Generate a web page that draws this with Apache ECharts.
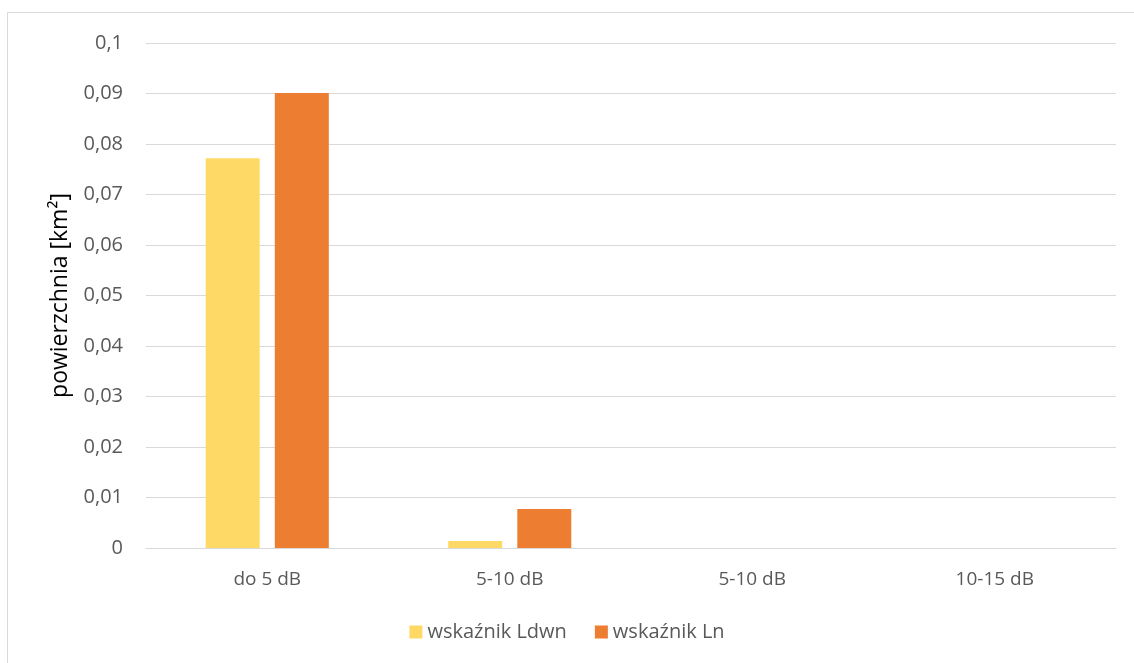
<!DOCTYPE html>
<html><head><meta charset="utf-8">
<script src="https://cdn.jsdelivr.net/npm/echarts@6/dist/echarts.min.js"></script>
<style>html,body{margin:0;padding:0;background:#fff}#c{width:1134px;height:663px}</style>
</head><body><div id="c"></div>
<script>
const categories = ['do 5 dB', '5-10 dB', '5-10 dB', '10-15 dB'];
const ldwn = [0.0772, 0.0014, 0, 0];
const ln = [0.0901, 0.0077, 0, 0];
const seriesNames = ['wskaźnik Ldwn', 'wskaźnik Ln'];
const yTicks = { min: 0, max: 0.1, interval: 0.01 };
const yName = 'powierzchnia [km²]';

const font = '"Open Sans", "Liberation Sans", sans-serif';
const chart = echarts.init(document.getElementById('c'), null, { renderer: 'canvas' });
chart.setOption({
  animation: false,
  backgroundColor: '#fff',
  graphic: [{ type: 'rect', shape: { x: 7.5, y: 12.5, width: 1140, height: 700 }, style: { fill: 'none', stroke: '#d9d9d9', lineWidth: 1 }, silent: true }],
  grid: { left: 146, right: 18, top: 43, bottom: 115 },
  legend: {
    bottom: 16, left: 'center', itemWidth: 13, itemHeight: 13, itemGap: 28, icon: 'rect',
    textStyle: { color: '#595959', fontSize: 20, fontFamily: font }
  },
  xAxis: {
    type: 'category', data: categories,
    axisLine: { lineStyle: { color: '#d9d9d9', width: 1 } },
    axisTick: { show: false },
    axisLabel: { color: '#595959', fontSize: 19, fontFamily: font, margin: 22 }
  },
  yAxis: {
    type: 'value', min: yTicks.min, max: yTicks.max, interval: yTicks.interval,
    name: yName, nameLocation: 'middle', nameGap: 74, nameRotate: 90,
    nameTextStyle: { color: '#000', fontSize: 23, fontFamily: font },
    axisLine: { show: false }, axisTick: { show: false },
    splitLine: { lineStyle: { color: '#d9d9d9', width: 1 } },
    axisLabel: { color: '#595959', fontSize: 20, fontFamily: font, margin: 23,
      formatter: v => String(Math.round(v * 100) / 100).replace('.', ',') }
  },
  series: [
    { name: seriesNames[0], type: 'bar', data: ldwn, barWidth: 54, barGap: '28%', itemStyle: { color: '#ffd966' } },
    { name: seriesNames[1], type: 'bar', data: ln, barWidth: 54, itemStyle: { color: '#ed7d31' } }
  ]
});
</script></body></html>
